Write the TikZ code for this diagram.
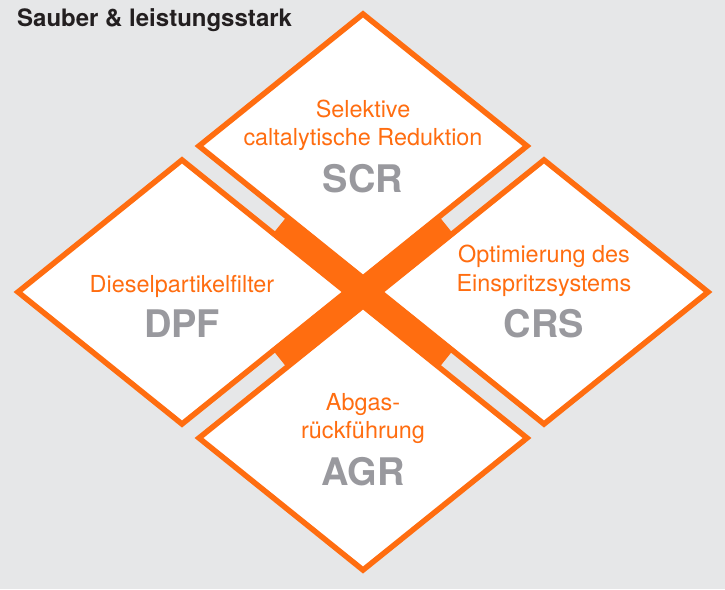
\documentclass[tikz,border=0pt]{standalone}
\usepackage{fontspec}
\setmainfont{TeX Gyre Heros}
\usetikzlibrary{shapes.geometric}

\definecolor{sborange}{RGB}{255,109,16}
\definecolor{sbback}{RGB}{230,231,232}
\definecolor{sbgrey}{RGB}{153,153,158}
\definecolor{sbtitle}{RGB}{35,31,32}

\tikzset{
  rhomb/.style={diamond,draw=sborange,fill=white,line width=5.5pt,
    minimum width=328pt,minimum height=264pt,inner sep=0pt,outer sep=0pt},
  desc/.style={anchor=base,inner sep=0pt,text=sborange,font=\fontsize{23.4}{28}\selectfont},
  abbr/.style={anchor=base,inner sep=0pt,text=sbgrey,font=\fontsize{38}{40}\selectfont\bfseries},
  band/.style={draw=sborange,line width=26pt}
}

\begin{document}
\begin{tikzpicture}[x=1pt,y=-1pt]
\fill [sbback] (0,0) rectangle (725,589);
\useasboundingbox (0,0) rectangle (725,589);
\node [anchor=base west,inner sep=0pt,text=sbtitle,font=\fontsize{24}{26}\selectfont\bfseries] (title) at (17,27) {Sauber \& leistungsstark};
% four diamonds
\node [rhomb] (scr) at (363,146) {};
\node [rhomb] (dpf) at (182,292) {};
\node [rhomb] (crs) at (544,292) {};
\node [rhomb] (agr) at (363,438) {};
% the cross between them
\coordinate (M) at (363,292);
\coordinate (nw) at (280,225);
\coordinate (se) at (446,359);
\coordinate (ne) at (446,225);
\coordinate (sw) at (280,359);
\draw [band] (nw) -- (se);
\draw [band] (ne) -- (sw);
% texts
\node [desc] (scr-a) at (363,117) {Selektive};
\node [desc] (scr-b) at (363,145) {caltalytische Reduktion};
\node [abbr] (scr-c) at (363,192) {SCR};
\node [desc] (dpf-a) at (182,292) {Dieselpartikelfilter};
\node [abbr] (dpf-c) at (182,337) {DPF};
\node [desc] (crs-a) at (544,262) {Optimierung des};
\node [desc] (crs-b) at (544,291) {Einspritzsystems};
\node [abbr] (crs-c) at (544,337) {CRS};
\node [desc] (agr-a) at (363,410) {Abgas-};
\node [desc] (agr-b) at (363,438) {rückführung};
\node [abbr] (agr-c) at (363,485) {AGR};
\end{tikzpicture}
\end{document}
